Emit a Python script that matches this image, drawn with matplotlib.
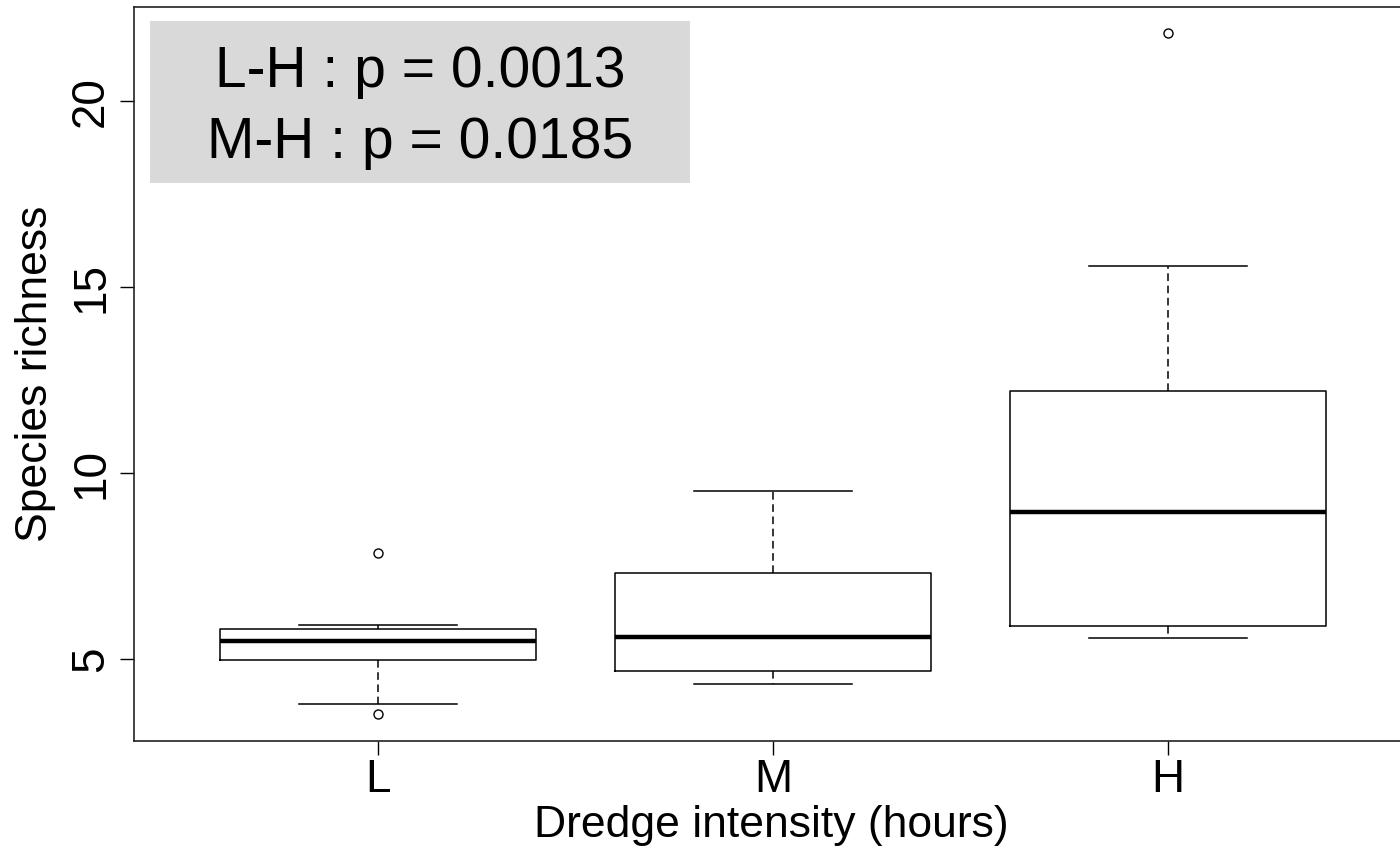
import matplotlib
matplotlib.use("Agg")
import matplotlib.pyplot as plt
from matplotlib.patches import Rectangle

plt.rcParams['font.family'] = ['Liberation Sans', 'DejaVu Sans']

categories = ["L", "M", "H"]
whislo = [3.79, 4.33, 5.56]
q1 = [4.97, 4.68, 5.89]
med = [5.48, 5.59, 8.95]
q3 = [5.81, 7.31, 12.20]
whishi = [5.91, 9.52, 15.56]
fliers = [[7.85, 3.52], [], [21.83]]
yticks = [5, 10, 15, 20]
annot_lines = ["L-H : p = 0.0013", "M-H : p = 0.0185"]

stats = []
for i, c in enumerate(categories):
    stats.append(dict(label=c, whislo=whislo[i], q1=q1[i], med=med[i],
                      q3=q3[i], whishi=whishi[i], fliers=fliers[i]))

fig = plt.figure(figsize=(14, 8.52), dpi=100)
ax = fig.add_axes([134/1400, 111/852, 1 - 134/1400, 734/852])

ax.bxp(stats, positions=[1, 2, 3], widths=0.8, capwidths=0.4,
       boxprops=dict(color='black', linewidth=1.1),
       medianprops=dict(color='black', linewidth=3.2, solid_capstyle='butt'),
       whiskerprops=dict(color='black', linewidth=1.1, linestyle=(0, (5, 3))),
       capprops=dict(color='black', linewidth=1.1),
       flierprops=dict(marker='o', markerfacecolor='none', markeredgecolor='black',
                       markersize=6.5, markeredgewidth=1.0, linestyle='none'))

ax.set_xlim(1 + (134 - 378) / 395, 1 + (1400 - 378) / 395)
ax.set_ylim(2.796, 22.53)
ax.set_yticks(yticks)
ax.set_yticklabels([str(t) for t in yticks], rotation=90, va='center')
ax.set_xticks([1, 2, 3])
ax.set_xticklabels(categories)
ax.tick_params(axis='both', length=10, width=1.0, labelsize=33, color='black')
ax.tick_params(axis='y', pad=5)
ax.tick_params(axis='x', pad=2.5)

for s in ['left', 'bottom', 'top']:
    ax.spines[s].set_linewidth(1.2)
    ax.spines[s].set_color('#222222')
ax.spines['right'].set_visible(False)

ax.set_xlabel("Dredge intensity (hours)", fontsize=32)
ax.set_ylabel("Species richness", fontsize=32)
ax.xaxis.set_label_coords((771 - 134) / 1266, (741 - 805) / 734)
ax.yaxis.set_label_coords((56 - 134) / 1266, 0.5)

# annotation box
x0 = (150 - 134) / 1266
x1 = (690 - 134) / 1266
y0 = (741 - 183) / 734
y1 = (741 - 21) / 734
ax.add_patch(Rectangle((x0, y0), x1 - x0, y1 - y0, transform=ax.transAxes,
                       facecolor='#D9D9D9', edgecolor='none', zorder=5))
xc = (420 - 134) / 1266
ax.text(xc, (741 - 87) / 734, annot_lines[0], transform=ax.transAxes,
        ha='center', va='baseline', fontsize=41, zorder=6)
ax.text(xc, (741 - 158) / 734, annot_lines[1], transform=ax.transAxes,
        ha='center', va='baseline', fontsize=41, zorder=6)

fig.savefig("out.png", dpi=100)
